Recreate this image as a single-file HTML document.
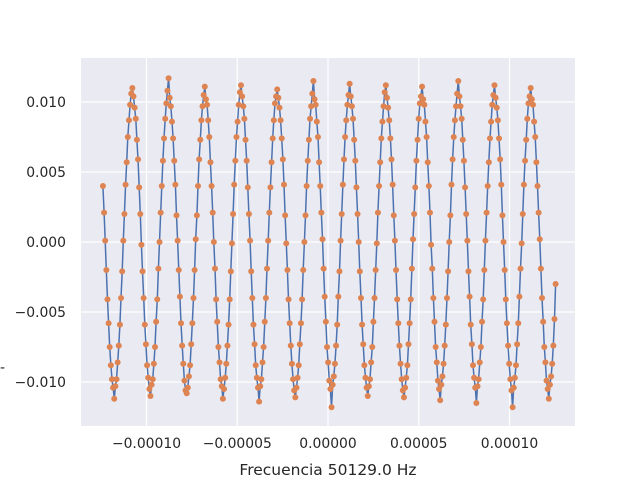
<!DOCTYPE html>
<html><head><meta charset="utf-8">
<style>
body{margin:0;background:#fff;}
svg{display:block;font-family:"DejaVu Sans","Liberation Sans",sans-serif;}
</style></head>
<body>
<svg id="chart" width="640" height="480">
  <rect x="81" y="58" width="494" height="368" fill="#EAEAF2"/>
  <g id="grid"></g>
  <g id="series"></g>
  <g id="ticks" font-size="13.9" fill="#262626"></g>
  <text x="328" y="475" text-anchor="middle" font-size="15.5" fill="#262626">Frecuencia 50129.0 Hz</text>
  <text x="0" y="372" font-size="14" fill="#262626">-</text>
</svg>
<script>
const t0 = -0.000124;
const dt = 0.00000062350;
const values = [
0.0040,0.0021,0.0001,-0.0020,-0.0041,-0.0058,-0.0075,-0.0088,-0.0098,-0.0104,-0.0112,-0.0103,-0.0098,-0.0086,-0.0074,-0.0059,-0.0040,-0.0021,0.0001,0.0020,0.0041,0.0057,0.0075,0.0087,0.0098,0.0106,0.0110,0.0104,0.0096,0.0088,0.0073,0.0059,
0.0039,0.0020,-0.0002,-0.0021,-0.0040,-0.0059,-0.0073,-0.0088,-0.0097,-0.0105,-0.0110,-0.0102,-0.0098,-0.0087,-0.0075,-0.0057,-0.0041,-0.0019,0.0000,0.0021,0.0040,0.0058,0.0074,0.0088,0.0099,0.0108,0.0117,0.0103,0.0097,0.0086,0.0074,0.0058,
0.0041,0.0019,0.0001,-0.0020,-0.0039,-0.0058,-0.0074,-0.0087,-0.0099,-0.0106,-0.0108,-0.0104,-0.0096,-0.0088,-0.0073,-0.0058,-0.0040,-0.0020,0.0002,0.0019,0.0040,0.0059,0.0073,0.0087,0.0097,0.0105,0.0111,0.0102,0.0098,0.0087,0.0075,0.0057,
0.0040,0.0021,0.0000,-0.0019,-0.0041,-0.0057,-0.0075,-0.0086,-0.0098,-0.0103,-0.0112,-0.0105,-0.0097,-0.0087,-0.0074,-0.0059,-0.0041,-0.0021,-0.0001,0.0020,0.0041,0.0058,0.0075,0.0086,0.0098,0.0107,0.0112,0.0104,0.0097,0.0088,0.0073,0.0058,
0.0039,0.0020,0.0001,-0.0021,-0.0040,-0.0059,-0.0073,-0.0088,-0.0097,-0.0104,-0.0114,-0.0103,-0.0098,-0.0086,-0.0075,-0.0057,-0.0040,-0.0019,0.0001,0.0021,0.0039,0.0057,0.0074,0.0087,0.0099,0.0104,0.0109,0.0103,0.0096,0.0087,0.0074,0.0059,
0.0041,0.0019,-0.0001,-0.0020,-0.0041,-0.0058,-0.0074,-0.0087,-0.0098,-0.0106,-0.0111,-0.0104,-0.0097,-0.0088,-0.0073,-0.0058,-0.0041,-0.0020,0.0000,0.0019,0.0040,0.0058,0.0073,0.0088,0.0097,0.0106,0.0115,0.0102,0.0098,0.0086,0.0075,0.0057,
0.0040,0.0021,0.0002,-0.0019,-0.0039,-0.0057,-0.0075,-0.0086,-0.0099,-0.0105,-0.0118,-0.0102,-0.0096,-0.0087,-0.0074,-0.0059,-0.0039,-0.0021,0.0001,0.0020,0.0041,0.0059,0.0075,0.0087,0.0098,0.0105,0.0113,0.0104,0.0097,0.0088,0.0073,0.0058,
0.0039,0.0020,0.0000,-0.0021,-0.0040,-0.0059,-0.0073,-0.0088,-0.0097,-0.0104,-0.0110,-0.0103,-0.0098,-0.0086,-0.0075,-0.0057,-0.0040,-0.0020,-0.0001,0.0021,0.0040,0.0057,0.0074,0.0086,0.0097,0.0107,0.0112,0.0103,0.0096,0.0087,0.0074,0.0059,
0.0041,0.0019,0.0001,-0.0020,-0.0041,-0.0058,-0.0074,-0.0087,-0.0098,-0.0106,-0.0111,-0.0104,-0.0097,-0.0088,-0.0073,-0.0058,-0.0041,-0.0019,0.0002,0.0020,0.0039,0.0058,0.0073,0.0088,0.0099,0.0104,0.0111,0.0102,0.0098,0.0086,0.0075,0.0057,
0.0040,0.0021,-0.0002,-0.0019,-0.0040,-0.0057,-0.0075,-0.0086,-0.0099,-0.0105,-0.0113,-0.0102,-0.0096,-0.0087,-0.0074,-0.0059,-0.0040,-0.0021,0.0000,0.0019,0.0041,0.0059,0.0075,0.0087,0.0097,0.0106,0.0115,0.0104,0.0097,0.0088,0.0073,0.0058,
0.0039,0.0020,0.0001,-0.0021,-0.0039,-0.0059,-0.0073,-0.0088,-0.0097,-0.0104,-0.0115,-0.0103,-0.0098,-0.0086,-0.0075,-0.0057,-0.0041,-0.0020,0.0001,0.0021,0.0040,0.0057,0.0074,0.0086,0.0098,0.0105,0.0112,0.0103,0.0096,0.0087,0.0074,0.0059,
0.0041,0.0019,0.0000,-0.0020,-0.0041,-0.0058,-0.0074,-0.0087,-0.0098,-0.0106,-0.0118,-0.0104,-0.0097,-0.0088,-0.0073,-0.0058,-0.0039,-0.0019,-0.0001,0.0020,0.0041,0.0058,0.0073,0.0088,0.0099,0.0104,0.0110,0.0102,0.0098,0.0086,0.0075,0.0057,
0.0040,0.0021,0.0002,-0.0019,-0.0040,-0.0057,-0.0075,-0.0086,-0.0099,-0.0105,-0.0112,-0.0102,-0.0096,-0.0087,-0.0074,-0.0055,-0.0030
];
const xTicks = [-0.0001,-0.00005,0,0.00005,0.0001];
const xTickLabels = ["\u22120.00010","\u22120.00005","0.00000","0.00005","0.00010"];
const yTicks = [-0.01,-0.005,0,0.005,0.01];
const yTickLabels = ["\u22120.010","\u22120.005","0.000","0.005","0.010"];

const NS="http://www.w3.org/2000/svg";
function xs(v){return 328+v*1815000;}
function ys(v){return 242-v*14000;}
function mk(tag,attrs,parent){const e=document.createElementNS(NS,tag);for(const k in attrs)e.setAttribute(k,attrs[k]);parent.appendChild(e);return e;}
const grid=document.getElementById('grid'),ticks=document.getElementById('ticks'),series=document.getElementById('series');
xTicks.forEach((v,i)=>{
  const l=mk('line',{x1:xs(v),x2:xs(v),y1:58,y2:426,stroke:'#fff','stroke-width':1.2},grid);
  
  
  const t=mk('text',{x:xs(v),y:448,'text-anchor':'middle'},ticks);
  t.textContent=xTickLabels[i];
  
  
});
yTicks.forEach((v,i)=>{
  const l=mk('line',{x1:81,x2:575,y1:ys(v),y2:ys(v),stroke:'#fff','stroke-width':1.2},grid);
  
  
  const t=mk('text',{x:66,y:ys(v)+5,'text-anchor':'end'},ticks);
  t.textContent=yTickLabels[i];
  
  
});
const pts=values.map((v,i)=>[xs(t0+i*dt),ys(v)]);
const line=mk('polyline',{points:pts.map(p=>p[0].toFixed(1)+','+p[1].toFixed(1)).join(' '),fill:'none',stroke:'#4C72B0','stroke-width':1.5},series);


pts.forEach(p=>{
  const c=mk('circle',{cx:p[0],cy:p[1],r:3,fill:'#DD8452'},series);
  
  
});
</script>
</body></html>
